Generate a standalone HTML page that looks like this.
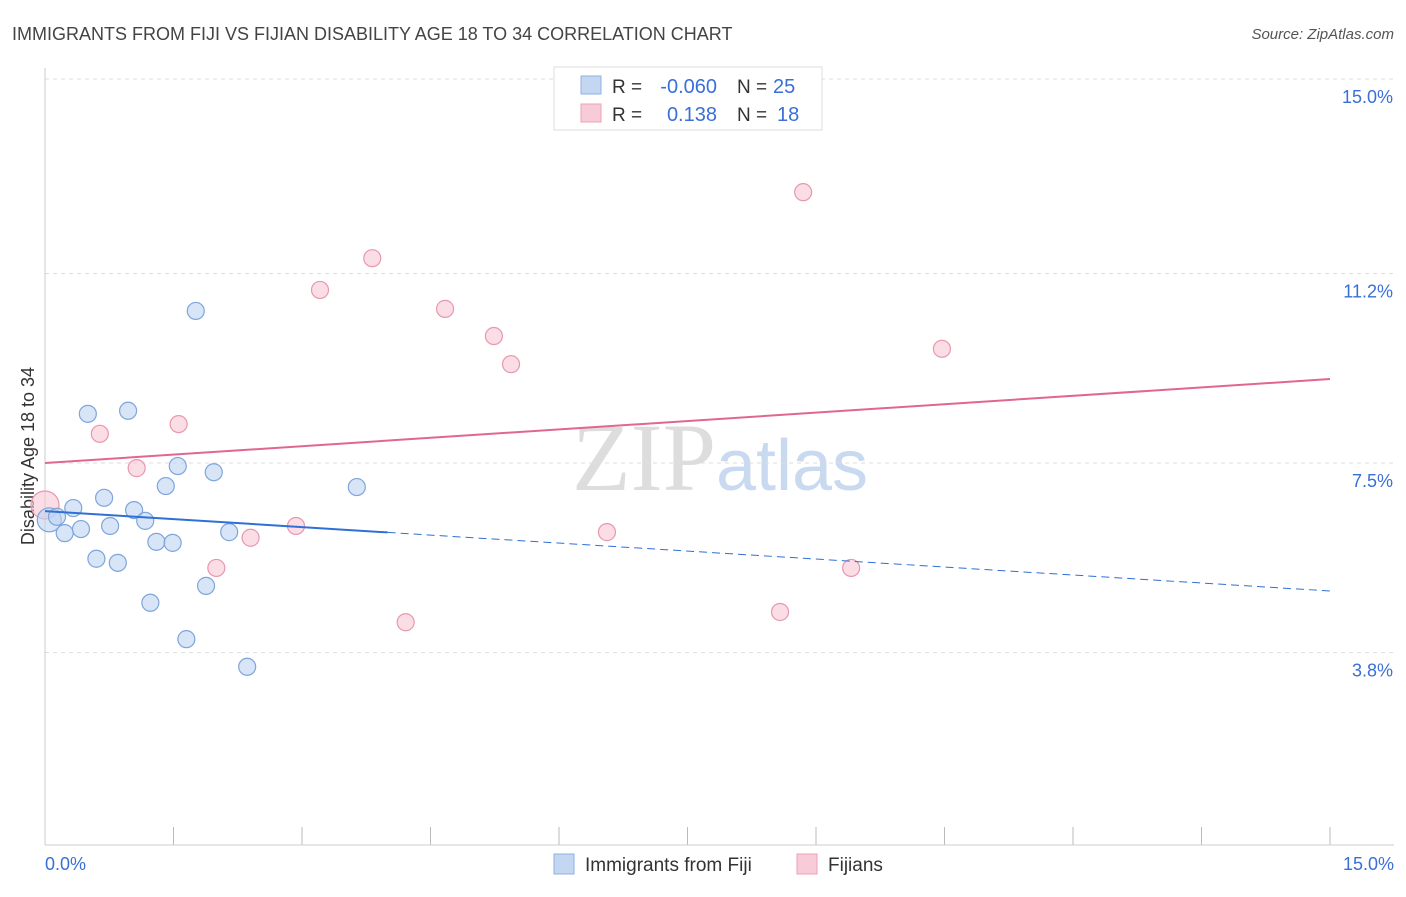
<!DOCTYPE html>
<html><head><meta charset="utf-8"><style>
body{margin:0;background:#fff;font-family:"Liberation Sans",sans-serif}
</style></head><body>
<svg width="1406" height="892" xmlns="http://www.w3.org/2000/svg" font-family="Liberation Sans, sans-serif">
<text x="12" y="40" font-size="18" fill="#444">IMMIGRANTS FROM FIJI VS FIJIAN DISABILITY AGE 18 TO 34 CORRELATION CHART</text>
<text x="1394" y="39" font-size="15" fill="#555" text-anchor="end" font-style="italic">Source: ZipAtlas.com</text>
<text x="720" y="490" font-size="96" text-anchor="middle" fill="#ddd" font-family="Liberation Serif, serif">ZIP<tspan fill="#c9daf0" font-family="Liberation Sans, sans-serif" font-size="72">atlas</tspan></text>
<g id="grid"></g>
<line x1="45" y1="845" x2="1394" y2="845" stroke="#ccc"/>
<line x1="45" y1="68" x2="45" y2="845" stroke="#ccc"/>
<text transform="translate(34,456) rotate(-90)" font-size="18" fill="#333" text-anchor="middle">Disability Age 18 to 34</text>
<text x="45" y="870" font-size="18" fill="#3a6fd8">0.0%</text>
<text x="1394" y="870" font-size="18" fill="#3a6fd8" text-anchor="end">15.0%</text>
<g id="marks"></g>
<g>
<rect x="554" y="67" width="268" height="63" fill="#fff" stroke="#ddd"/>
<rect x="581" y="76" width="20" height="18" fill="#c3d7f3" stroke="#8fb0e0"/>
<rect x="581" y="104" width="20" height="18" fill="#f8cbd8" stroke="#eba0b6"/>
<text x="612" y="93" font-size="19" fill="#333">R =</text>
<text x="717" y="93" font-size="20" fill="#3a6fd8" text-anchor="end">-0.060</text>
<text x="737" y="93" font-size="19" fill="#333">N =</text>
<text x="773" y="93" font-size="20" fill="#3a6fd8">25</text>
<text x="612" y="121" font-size="19" fill="#333">R =</text>
<text x="717" y="121" font-size="20" fill="#3a6fd8" text-anchor="end">0.138</text>
<text x="737" y="121" font-size="19" fill="#333">N =</text>
<text x="777" y="121" font-size="20" fill="#3a6fd8">18</text>
</g>
<g>
<rect x="554" y="854" width="20" height="20" fill="#c3d7f3" stroke="#8fb0e0"/>
<text x="585" y="871" font-size="19" fill="#333">Immigrants from Fiji</text>
<rect x="797" y="854" width="20" height="20" fill="#f8cbd8" stroke="#eba0b6"/>
<text x="828" y="871" font-size="19" fill="#333">Fijians</text>
</g>
</svg>
<script>
const yTicks=[15.0,11.2,7.5,3.8];
const yTickLabels=["15.0%","11.2%","7.5%","3.8%"];
const xTicks=[0,1.5,3,4.5,6,7.5,9,10.5,12,13.5,15];
const blueX=[0.05,0.14,0.23,0.33,0.42,0.50,0.60,0.69,0.76,0.85,0.97,1.04,1.17,1.23,1.30,1.41,1.49,1.55,1.65,1.76,1.88,1.97,2.15,2.36,3.64];
const blueY=[6.39,6.45,6.13,6.62,6.21,8.46,5.63,6.82,6.27,5.55,8.52,6.58,6.37,4.77,5.96,7.05,5.94,7.44,4.06,10.47,5.10,7.32,6.15,3.52,7.03];
const pinkX=[0,0.64,1.07,1.56,2.00,2.40,2.93,3.21,3.82,4.21,4.67,5.24,5.44,6.56,8.58,8.85,9.41,10.47];
const pinkY=[6.68,8.07,7.40,8.26,5.45,6.04,6.27,10.88,11.50,4.39,10.51,9.98,9.43,6.15,4.59,12.79,5.45,9.73];
const blueTrend=[6.56,5.0]; const blueSolidEnd=4.0;
const pinkTrend=[7.5,9.14];
const NS="http://www.w3.org/2000/svg";
const X=v=>45+v*1285/15, Y=v=>847-v*51.2;
function mk(t,a,p){const e=document.createElementNS(NS,t);for(const k in a)e.setAttribute(k,a[k]);p.appendChild(e);return e;}
const g=document.getElementById('grid'), m=document.getElementById('marks');
yTicks.forEach((v,i)=>{
 const l=mk('line',{x1:45,x2:1394,y1:Y(v),y2:Y(v),stroke:'#ddd','stroke-dasharray':'4,4'},g);
 
 
 const t=mk('text',{x:1393,y:Y(v)+24,'font-size':18,fill:'#3a6fd8','text-anchor':'end'},g);
 t.textContent=yTickLabels[i];
 
 
});
xTicks.forEach(v=>{
 const l=mk('line',{x1:X(v),x2:X(v),y1:827,y2:845,stroke:'#bbb'},g);
 
 
});
function dot(x,y,fill,stroke,r,name){
 const c=mk('circle',{cx:X(x),cy:Y(y),r:r,fill:fill,stroke:stroke,'stroke-width':1.2,'fill-opacity':0.6},m);
 
 
}
pinkX.forEach((x,i)=>dot(x,pinkY[i],'#f8c6d4','#e897ae',i==0?14:8.5,'fijians-point'));
blueX.forEach((x,i)=>dot(x,blueY[i],'#bcd3f2','#7ea5dc',i==0?12:8.5,'fiji-immigrants-point'));
const bAt=v=>blueTrend[0]+(blueTrend[1]-blueTrend[0])*v/15;
let l=mk('line',{x1:X(0),y1:Y(bAt(0)),x2:X(blueSolidEnd),y2:Y(bAt(blueSolidEnd)),stroke:'#2f6fd6','stroke-width':2},m);


l=mk('line',{x1:X(blueSolidEnd),y1:Y(bAt(blueSolidEnd)),x2:X(15),y2:Y(bAt(15)),stroke:'#2f6fd6','stroke-width':1,'stroke-dasharray':'8,5'},m);


l=mk('line',{x1:X(0),y1:Y(pinkTrend[0]),x2:X(15),y2:Y(pinkTrend[1]),stroke:'#e0678f','stroke-width':2},m);


</script>
</body></html>
